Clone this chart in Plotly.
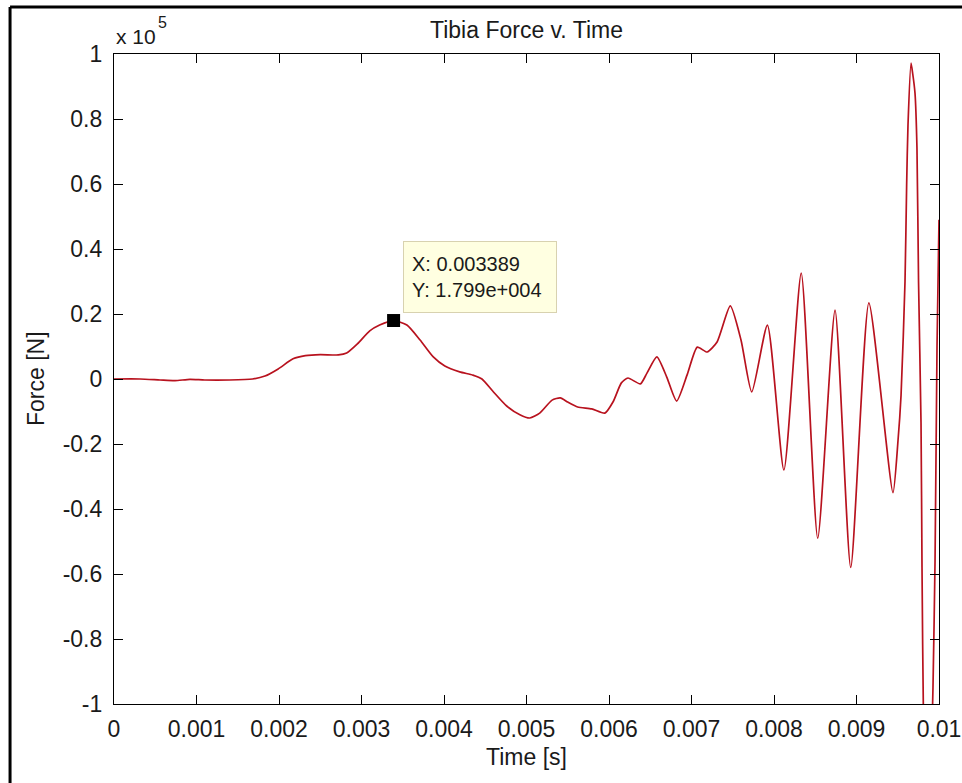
import plotly.graph_objects as go

# ---- data (time in s, force in N) ----
time_s = [
    0.0, 0.000315, 0.000558, 0.00074, 0.00092, 0.0011, 0.0014, 0.00168, 0.00183,
    0.00199, 0.00217, 0.00232, 0.0025, 0.00272, 0.00282, 0.00295, 0.0031, 0.00322,
    0.003389, 0.00355, 0.00371, 0.00387, 0.00401, 0.00419, 0.00435, 0.00446,
    0.00459, 0.00476, 0.00492, 0.00504, 0.00516, 0.00531, 0.00541, 0.0055,
    0.00562, 0.00579, 0.00595, 0.00605, 0.00615, 0.00623, 0.00638, 0.00646,
    0.00658, 0.0067, 0.00682, 0.00695, 0.00707, 0.00719, 0.00731, 0.00747,
    0.0076, 0.00773, 0.00792, 0.00812, 0.00833, 0.00853, 0.00874, 0.00893,
    0.00915, 0.009442, 0.009503, 0.00954, 0.009588, 0.009608, 0.009624,
    0.009661, 0.009681, 0.009709, 0.009733, 0.009752, 0.009782, 0.009794,
    0.009812, 0.009855, 0.009903, 0.009927, 0.009952, 0.009976, 0.01,
]
force_N = [
    0, 0, -300, -500, -100, -300, -300, 0, 900,
    3100, 6200, 7200, 7500, 7400, 8000, 10800, 14800, 16600,
    17990, 16600, 12000, 6800, 4000, 2200, 1200, 0,
    -3700, -8300, -11000, -12000, -10500, -6500, -5800, -7100,
    -8600, -9200, -10500, -7000, -1200, 300, -1500, 1800,
    6800, 600, -6800, 1500, 9800, 8300, 11400, 22500,
    12000, -4000, 16600, -28000, 32600, -49000, 21200, -58000,
    23400, -35000, -19000, -5000, 30000, 60000, 78000,
    97200, 94000, 88000, 71000, 30000, -13500, -58000,
    -105000, -150000, -120000, -95000, -56000, 10000, 49000,
]

# data tip
tip_x = 0.003389
tip_y = 17990

# ticks
x_ticks = [0.0, 0.001, 0.002, 0.003, 0.004, 0.005, 0.006, 0.007, 0.008, 0.009, 0.01]
x_tick_text = ["0", "0.001", "0.002", "0.003", "0.004", "0.005", "0.006", "0.007", "0.008", "0.009", "0.01"]
y_ticks = [-1, -0.8, -0.6, -0.4, -0.2, 0, 0.2, 0.4, 0.6, 0.8, 1]
y_tick_text = ["-1", "-0.8", "-0.6", "-0.4", "-0.2", "0", "0.2", "0.4", "0.6", "0.8", "1"]

SCALE = 1e5
FONT = "Liberation Sans, Arial, sans-serif"
TXT = "#1a1a1a"

fig = go.Figure()
fig.add_trace(go.Scatter(
    x=time_s, y=[f / SCALE for f in force_N], mode="lines",
    line=dict(color="#b8121e", width=1.7, shape="spline", smoothing=0.6),
    showlegend=False, hoverinfo="skip",
))
fig.add_trace(go.Scatter(
    x=[tip_x], y=[tip_y / SCALE], mode="markers",
    marker=dict(symbol="square", size=13, color="black"),
    showlegend=False, hoverinfo="skip",
))

axis_common = dict(
    showgrid=False, zeroline=False, showline=True, linecolor="black", linewidth=1.2,
    mirror="ticks", ticks="inside", ticklen=9, tickwidth=1.2, tickcolor="black",
    tickfont=dict(family=FONT, size=23, color=TXT), automargin=False,
)
fig.update_xaxes(range=[0, 0.01], tickvals=x_ticks, ticktext=x_tick_text,
                 ticklabelstandoff=4, **axis_common)
fig.update_yaxes(range=[-1, 1], tickvals=y_ticks, ticktext=y_tick_text,
                 ticklabelstandoff=6, **axis_common)

fig.update_layout(
    width=962, height=783,
    margin=dict(l=114, r=23, t=54, b=79, autoexpand=False),
    paper_bgcolor="white", plot_bgcolor="white",
    font=dict(family=FONT, color=TXT),
    annotations=[
        dict(text="Tibia Force v. Time", xref="paper", yref="paper", x=0.5, y=1.0369,
             xanchor="center", yanchor="middle", showarrow=False,
             font=dict(size=23, family=FONT, color=TXT)),
        dict(text="Time [s]", xref="paper", yref="paper", x=0.5, y=-0.0815,
             xanchor="center", yanchor="middle", showarrow=False,
             font=dict(size=23, family=FONT, color=TXT)),
        dict(text="Force [N]", xref="paper", yref="paper", x=-0.0945, y=0.5,
             xanchor="center", yanchor="middle", showarrow=False, textangle=-90,
             font=dict(size=23, family=FONT, color=TXT)),
        dict(text="x 10", xref="paper", yref="paper", x=0.0, y=1.0262,
             xanchor="left", yanchor="middle", showarrow=False,
             font=dict(size=21, family=FONT, color=TXT)),
        dict(text="5", xref="paper", yref="paper", x=0.0515, y=1.0485,
             xanchor="left", yanchor="middle", showarrow=False,
             font=dict(size=16, family=FONT, color=TXT)),
        dict(text="X: 0.003389<br>Y: 1.799e+004", xref="x", yref="y",
             x=tip_x, y=tip_y / SCALE, xanchor="left", yanchor="bottom",
             xshift=9, yshift=8, showarrow=False, align="left",
             width=136, height=54, bgcolor="#ffffe1", bordercolor="#d8d2b0",
             borderwidth=1, borderpad=8,
             font=dict(size=20, family=FONT, color=TXT)),
    ],
    shapes=[
        dict(type="line", xref="paper", yref="paper", x0=-0.126, x1=1.1,
             y0=1.0723, y1=1.0723, line=dict(color="black", width=3)),
        dict(type="line", xref="paper", yref="paper", x0=-0.126, x1=-0.126,
             y0=-0.2, y1=1.0723, line=dict(color="black", width=3)),
    ],
)

fig.write_html("out.html")
